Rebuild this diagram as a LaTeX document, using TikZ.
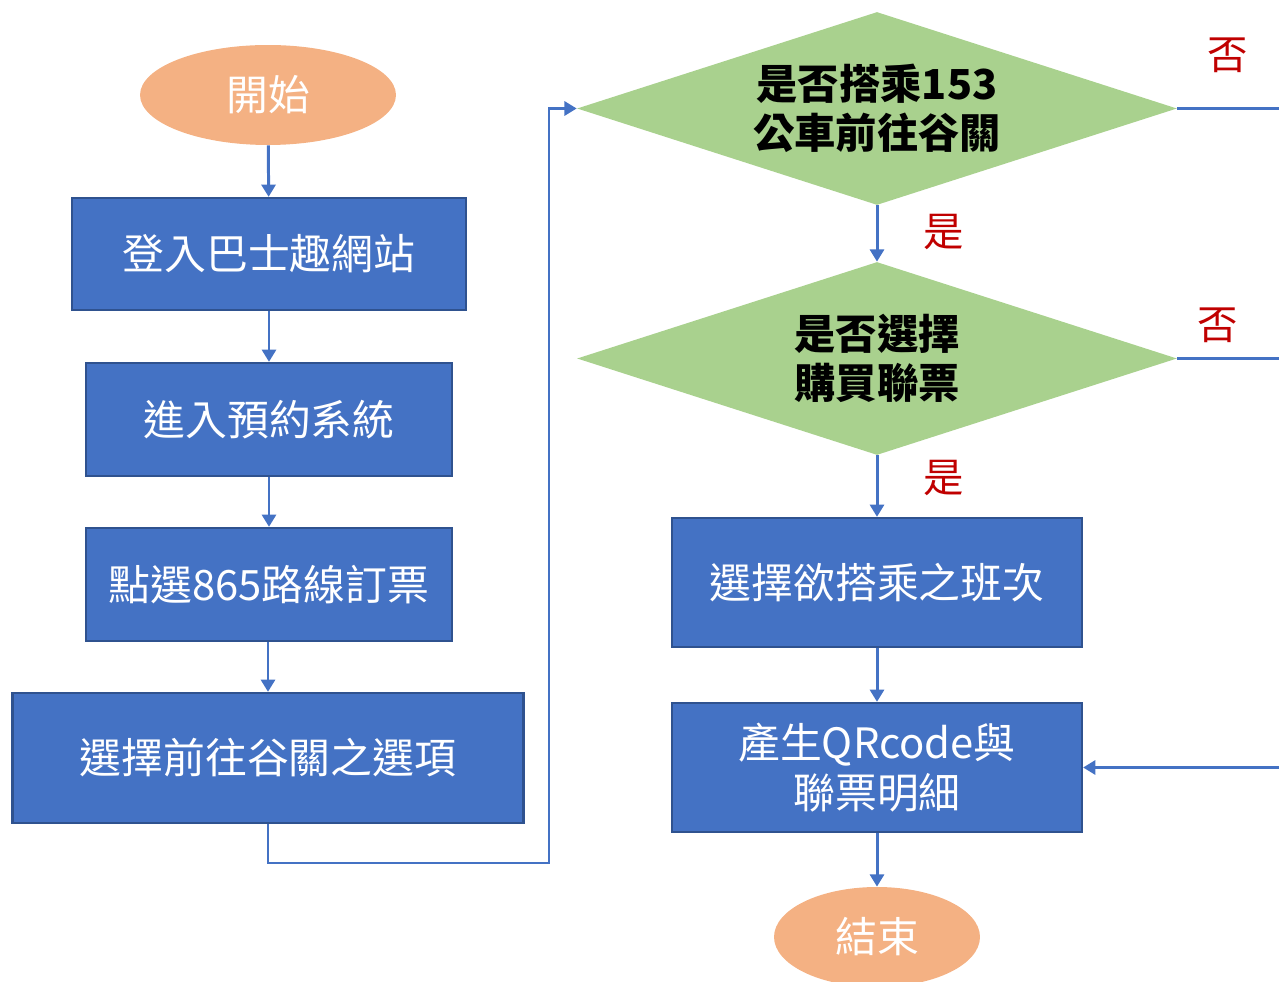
\documentclass[tikz,border=0pt]{standalone}
\usepackage{fontspec}
\setmainfont{Noto Sans CJK TC}
\usepackage{tikz}
\usetikzlibrary{shapes.geometric,arrows.meta,positioning}

\definecolor{boxblue}{HTML}{4472C4}
\definecolor{boxedge}{HTML}{2F528F}
\definecolor{leafgreen}{HTML}{A9D18E}
\definecolor{peach}{HTML}{F4B183}
\definecolor{answerred}{HTML}{C00000}

\begin{document}
\begin{tikzpicture}[x=0.02cm, y=-0.02cm, text=white,
	stepbox/.style={draw=boxedge, line width=1.3pt, fill=boxblue, inner sep=0pt, align=center, font=\fontsize{23.8}{28}\selectfont},
	askbox/.style={diamond, aspect=3.1, fill=leafgreen, inner sep=0pt, minimum width=12cm, minimum height=3.86cm, align=center, text=black, font=\fontsize{23.5}{28}\selectfont\bfseries},
	endbox/.style={ellipse, fill=peach, inner sep=0pt, minimum height=2cm, font=\fontsize{23.8}{28}\selectfont},
	answer/.style={text=answerred, font=\fontsize{23}{28}\selectfont},
	link/.style={draw=boxblue, line width=1.7pt, -{Triangle[length=7pt,width=8pt]}},
	plainlink/.style={draw=boxblue, line width=1.7pt}]
\def \leftcol {268}
\def \rightcol {877}
\def \rightedge {1279}

\useasboundingbox (0,0) rectangle (1279,982);

%Left column
\node[endbox, minimum width=5.12cm] (start) at (\leftcol,95) {開始};
\node[stepbox, minimum width=7.88cm, minimum height=2.24cm] (login) at (269,254) {登入巴士趣網站};
\node[stepbox, minimum width=7.32cm, minimum height=2.26cm] (booking) at (269,419.5) {進入預約系統};
\node[stepbox, minimum width=7.32cm, minimum height=2.26cm] (route) at (269,584.5) {點選865路線訂票};
\node[stepbox, minimum width=10.22cm, minimum height=2.6cm] (pick) at (\leftcol,758) {選擇前往谷關之選項};

\draw[link] (start) -- (login);
\draw[link] (login) -- (booking);
\draw[link] (booking) -- (route);
\draw[link] (route.south -| pick.north) -- (pick.north);

%Right column
\node[askbox] (ride) at (\rightcol,108.5) {是否搭乘153\\公車前往谷關};
\node[askbox] (pass) at (\rightcol,358.5) {是否選擇\\購買聯票};
\node[stepbox, minimum width=8.2cm, minimum height=2.58cm] (trip) at (\rightcol,582.5) {選擇欲搭乘之班次};
\node[stepbox, minimum width=8.2cm, minimum height=2.58cm] (make) at (\rightcol,767.5) {產生QRcode與\\聯票明細};
\node[endbox, minimum width=4.12cm] (finish) at (\rightcol,937) {結束};

%Line between the columns
\coordinate (turn) at (549,863);
\draw[link] (pick.south) |- (turn) |- (ride.west);

\draw[link] (ride.south) -- (pass.north);
\node[answer] (yesA) at (944,232) {是};
\draw[link] (pass.south) -- (trip.north);
\node[answer] (yesB) at (944,478) {是};
\draw[link] (trip) -- (make);
\draw[link] (make) -- (finish);

%No branches
\coordinate (noA) at (\rightedge,108.5);
\coordinate (noB) at (\rightedge,358.5);
\coordinate (back) at (\rightedge,767.5);
\node[answer] (noLabelA) at (1228,55) {否};
\node[answer] (noLabelB) at (1218,325) {否};
\draw[plainlink] (ride.east) -- (noA);
\draw[plainlink] (pass.east) -- (noB);
\draw[link] (back) -- (make.east);

\end{tikzpicture}
\end{document}
